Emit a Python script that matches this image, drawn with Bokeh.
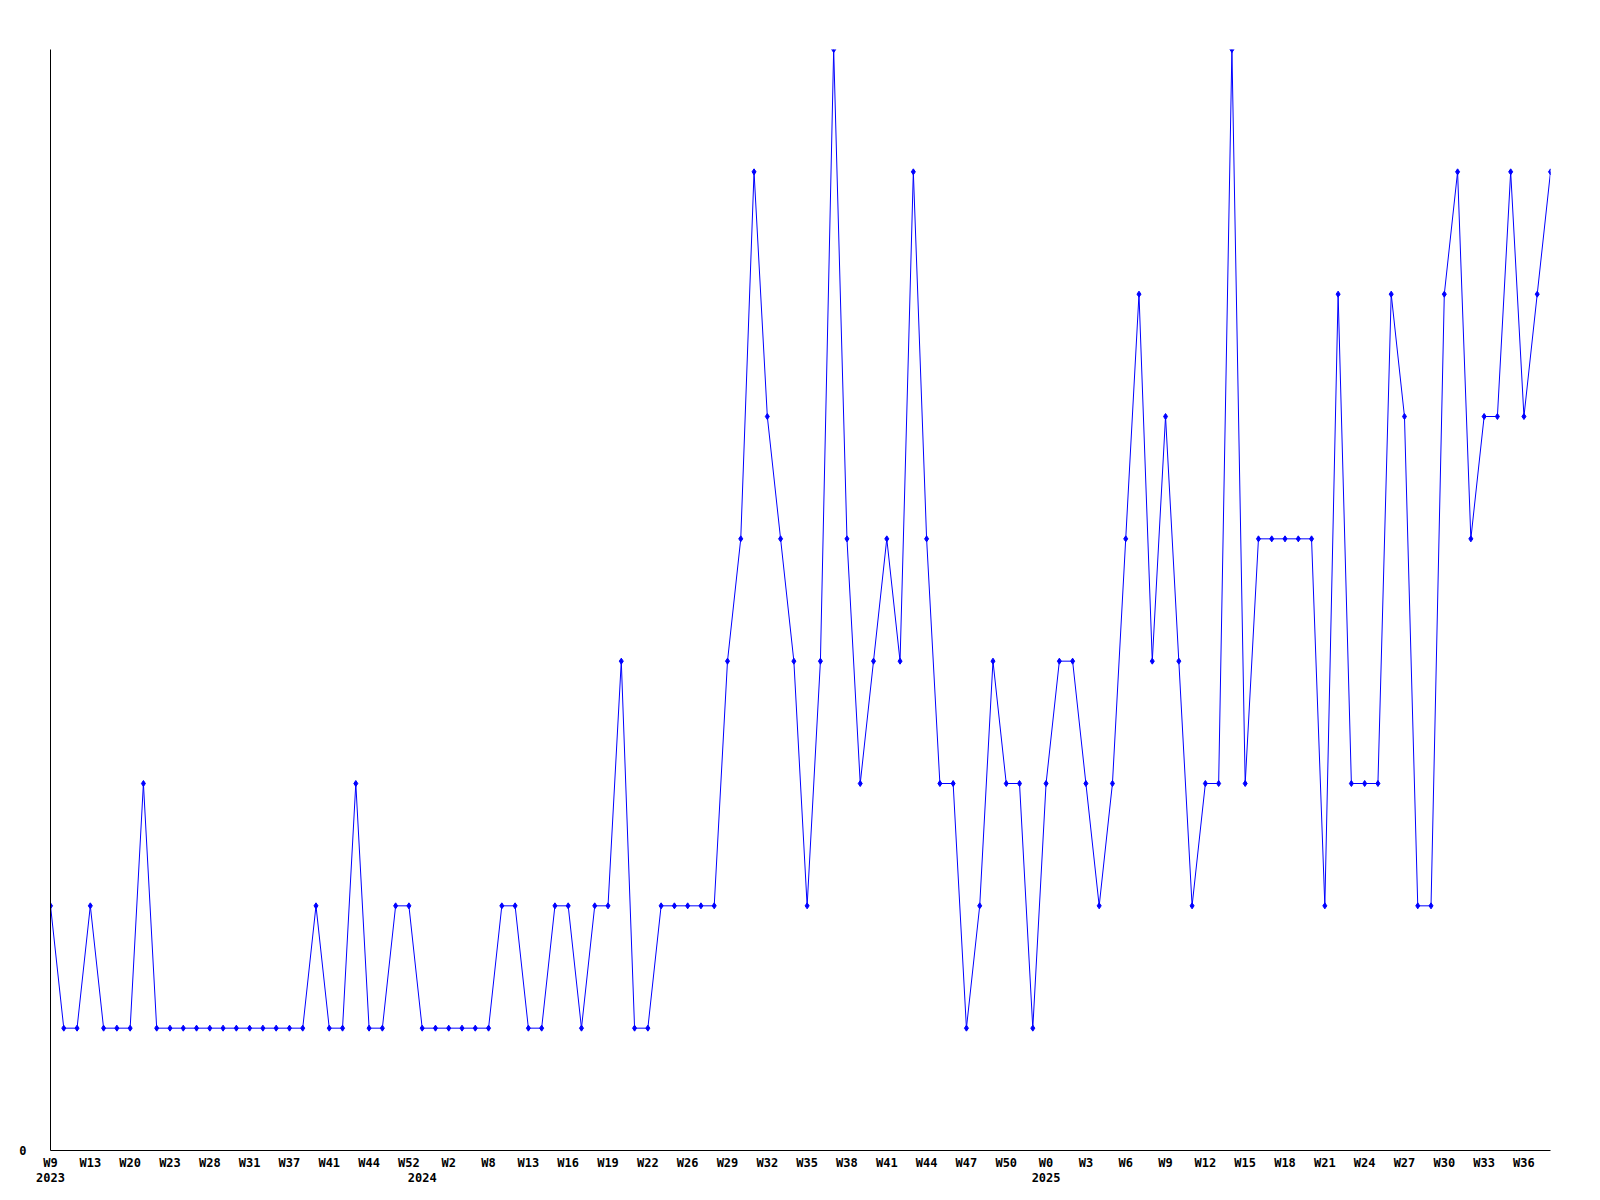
from bokeh.plotting import figure
from bokeh.models import FixedTicker, LinearAxis, Range1d
from bokeh.embed import file_html
from bokeh.resources import INLINE

# weekly counts, split by year
values_2023 = [2, 1, 1, 2, 1, 1, 1, 3, 1, 1, 1, 1, 1, 1, 1, 1, 1, 1, 1, 1,
               2, 1, 1, 3, 1, 1, 2, 2]
values_2024 = [1, 1, 1, 1, 1, 1, 2, 2, 1, 1, 2, 2, 1, 2, 2, 4, 1, 1, 2, 2,
               2, 2, 2, 4, 5, 8, 6, 5, 4, 2, 4, 9, 5, 3, 4, 5, 4, 8, 5, 3,
               3, 1, 2, 4, 3, 3, 1]
values_2025 = [3, 4, 4, 3, 2, 3, 5, 7, 4, 6, 4, 2, 3, 3, 9, 3, 5, 5, 5, 5,
               5, 2, 7, 3, 3, 3, 7, 6, 2, 2, 7, 8, 5, 6, 6, 8, 6, 7, 8]

week_labels = ["W9", "W13", "W20", "W23", "W28", "W31", "W37", "W41", "W44", "W52",
               "W2", "W8", "W13", "W16", "W19", "W22", "W26", "W29", "W32", "W35",
               "W38", "W41", "W44", "W47", "W50", "W0", "W3", "W6", "W9", "W12",
               "W15", "W18", "W21", "W24", "W27", "W30", "W33", "W36"]
year_labels = ["2023", "2024", "2025"]
y_tick_labels = ["0"]

values = values_2023 + values_2024 + values_2025
x = list(range(len(values)))
week_ticks = x[0:3 * len(week_labels):3]
year_ticks = [0, len(values_2023), len(values_2023) + len(values_2024)]

FONT = "DejaVu Sans Mono"

p = figure(width=1590, height=1190, output_backend="svg", toolbar_location=None,
           x_range=Range1d(0, len(values) - 1), y_range=Range1d(0, 9),
           min_border_left=50, min_border_right=40, min_border_top=49,
           min_border_bottom=40)
p.outline_line_color = None
p.xgrid.visible = False
p.ygrid.visible = False
p.background_fill_color = "white"

def style_axis(ax, standoff):
    ax.axis_line_color = "black"
    ax.axis_line_width = 1
    ax.major_tick_line_color = None
    ax.minor_tick_line_color = None
    ax.major_tick_out = 0
    ax.major_tick_in = 0
    ax.minor_tick_out = 0
    ax.minor_tick_in = 0
    ax.major_label_standoff = standoff
    ax.major_label_text_font = FONT
    ax.major_label_text_font_style = "bold"
    ax.major_label_text_font_size = "12px"
    ax.major_label_text_color = "black"

xa = p.xaxis[0]
style_axis(xa, 5)
xa.ticker = FixedTicker(ticks=week_ticks)
xa.major_label_overrides = {t: l for t, l in zip(week_ticks, week_labels)}

ya = p.yaxis[0]
style_axis(ya, 24)
ya.ticker = FixedTicker(ticks=[0])
ya.major_label_overrides = {0: y_tick_labels[0]}

yr = LinearAxis(ticker=FixedTicker(ticks=year_ticks),
                major_label_overrides={t: l for t, l in zip(year_ticks, year_labels)})
style_axis(yr, 0)
yr.axis_line_color = None
p.add_layout(yr, "below")

p.line(x, values, line_color="#0000ff", line_width=1)
p.scatter(x, values, marker="diamond", size=6, fill_color="#0000ff",
          line_color="#0000ff")

open("out.html", "w").write(file_html(p, INLINE))
